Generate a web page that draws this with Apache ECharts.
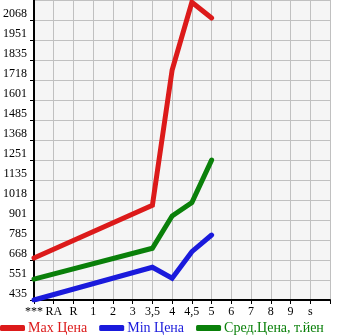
<!DOCTYPE html>
<html><head><meta charset="utf-8">
<script src="https://cdn.jsdelivr.net/npm/echarts@6/dist/echarts.min.js"></script>
<style>html,body{margin:0;padding:0;background:#fff}#c{width:345px;height:335px}</style>
</head><body><div id="c"></div>
<script>
var categories = ['***','RA','R','1','2','3','3,5','4','4,5','5','6','7','8','9','s',''];
var maxPrice = [680,null,null,null,null,null,987,1777,2172,2080,null,null,null,null,null,null];
var minPrice = [435,null,null,null,null,null,626,562,717,814,null,null,null,null,null,null];
var avgPrice = [557,null,null,null,null,null,737,925,1003,1251,null,null,null,null,null,null];
var yTickLabels = ['435','551','668','785','901','1018','1135','1251','1368','1485','1601','1718','1835','1951','2068',''];
var seriesNames = ['Max Цена','Min Цена','Сред.Цена, т.йен'];
var colors = ['#dc1a1a','#1a1adc','#0a800a'];

var yMin = 435, yStep = 350/3, yMax = 435 + 15*350/3;
var serif = '"Liberation Serif", "DejaVu Serif", serif';
var chart = echarts.init(document.getElementById('c'), null, {renderer:'canvas'});
function mk(name, data, color){
  return {name:name, type:'line', data:data, connectNulls:true, symbol:'none',
    lineStyle:{width:5, color:color, cap:'round', join:'miter'}, itemStyle:{color:color}};
}
chart.setOption({
  animation:false,
  color:colors,
  grid:{left:30, right:15, top:0, bottom:35, show:true, backgroundColor:'#f5f5f5', borderWidth:0},
  legend:{left:0, top:321, padding:0, itemWidth:25, itemHeight:6, itemGap:12, icon:'roundRect',
    data:seriesNames.map(function(n,i){return {name:n, textStyle:{color:colors[i]}};}),
    textStyle:{fontFamily:serif, fontSize:14, padding:[0,0,0,-2]}},
  xAxis:{type:'category', data:categories, boundaryGap:false,
    axisLine:{lineStyle:{color:'#000', width:2}},
    axisTick:{show:true, length:4, lineStyle:{color:'#000'}},
    axisLabel:{fontFamily:serif, fontSize:12, color:'#000', margin:6, interval:0},
    splitLine:{show:true, lineStyle:{color:'#c0c0c0', width:1}}},
  yAxis:{type:'value', min:yMin, max:yMax, interval:yStep,
    axisLine:{show:true, lineStyle:{color:'#000', width:2}},
    axisTick:{show:true, length:4, lineStyle:{color:'#000'}},
    axisLabel:{fontFamily:serif, fontSize:12, color:'#000', margin:7, verticalAlign:'bottom', showMaxLabel:false,
      formatter:function(v){var i=Math.round((v-yMin)/yStep); return yTickLabels[i]||'';}},
    splitLine:{show:true, lineStyle:{color:'#c0c0c0', width:1}}},
  series:[mk(seriesNames[0],maxPrice,colors[0]), mk(seriesNames[1],minPrice,colors[1]), mk(seriesNames[2],avgPrice,colors[2])]
});
</script></body></html>
